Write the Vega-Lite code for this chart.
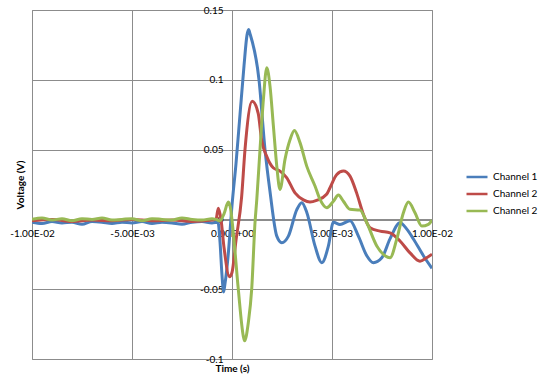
{
  "$schema": "https://vega.github.io/schema/vega-lite/v6.json",
  "autosize": {"type": "none"},
  "padding": {"left": 32, "top": 10, "right": 108, "bottom": 27},
  "width": 400,
  "height": 349,
  "background": "white",
  "config": {
    "font": "Lato",
    "view": {"stroke": "#8c8c8c", "strokeWidth": 1},
    "axis": {"gridColor": "#8c8c8c", "gridOpacity": 1, "domainColor": "#8c8c8c", "tickColor": "#8c8c8c", "labelFont": "Lato", "labelFontSize": 10, "labelColor": "#000000", "titleFont": "Lato", "titleFontSize": 10, "titleFontWeight": "bold", "titleColor": "#000000"}
  },
  "data": {"values": [
    {"t": -0.01, "v": -0.002, "s": "Channel 1"},
    {"t": -0.0095, "v": -0.003, "s": "Channel 1"},
    {"t": -0.009, "v": -0.0015, "s": "Channel 1"},
    {"t": -0.0085, "v": -0.0025, "s": "Channel 1"},
    {"t": -0.008, "v": -0.002, "s": "Channel 1"},
    {"t": -0.0075, "v": -0.0035, "s": "Channel 1"},
    {"t": -0.007, "v": -0.0015, "s": "Channel 1"},
    {"t": -0.0065, "v": -0.002, "s": "Channel 1"},
    {"t": -0.006, "v": -0.003, "s": "Channel 1"},
    {"t": -0.0055, "v": -0.002, "s": "Channel 1"},
    {"t": -0.005, "v": -0.0025, "s": "Channel 1"},
    {"t": -0.0045, "v": -0.0015, "s": "Channel 1"},
    {"t": -0.004, "v": -0.003, "s": "Channel 1"},
    {"t": -0.0035, "v": -0.002, "s": "Channel 1"},
    {"t": -0.003, "v": -0.0025, "s": "Channel 1"},
    {"t": -0.0025, "v": -0.0035, "s": "Channel 1"},
    {"t": -0.002, "v": -0.002, "s": "Channel 1"},
    {"t": -0.0015, "v": -0.0015, "s": "Channel 1"},
    {"t": -0.001, "v": -0.0025, "s": "Channel 1"},
    {"t": -0.0007, "v": -0.002, "s": "Channel 1"},
    {"t": -0.0006, "v": -0.016, "s": "Channel 1"},
    {"t": -0.0005, "v": -0.04, "s": "Channel 1"},
    {"t": -0.00042, "v": -0.052, "s": "Channel 1"},
    {"t": -0.00035, "v": -0.046, "s": "Channel 1"},
    {"t": -0.0002, "v": -0.027, "s": "Channel 1"},
    {"t": 0, "v": 0.01, "s": "Channel 1"},
    {"t": 0.0002, "v": 0.04, "s": "Channel 1"},
    {"t": 0.0004, "v": 0.075, "s": "Channel 1"},
    {"t": 0.0006, "v": 0.11, "s": "Channel 1"},
    {"t": 0.00075, "v": 0.132, "s": "Channel 1"},
    {"t": 0.00083, "v": 0.136, "s": "Channel 1"},
    {"t": 0.0009, "v": 0.133, "s": "Channel 1"},
    {"t": 0.00135, "v": 0.1, "s": "Channel 1"},
    {"t": 0.00165, "v": 0.05, "s": "Channel 1"},
    {"t": 0.0019, "v": 0.02, "s": "Channel 1"},
    {"t": 0.00224, "v": -0.012, "s": "Channel 1"},
    {"t": 0.00249, "v": -0.0167, "s": "Channel 1"},
    {"t": 0.00282, "v": -0.012, "s": "Channel 1"},
    {"t": 0.00324, "v": 0.007, "s": "Channel 1"},
    {"t": 0.00349, "v": 0.012, "s": "Channel 1"},
    {"t": 0.00374, "v": 0.005, "s": "Channel 1"},
    {"t": 0.00415, "v": -0.019, "s": "Channel 1"},
    {"t": 0.00449, "v": -0.031, "s": "Channel 1"},
    {"t": 0.00482, "v": -0.019, "s": "Channel 1"},
    {"t": 0.00507, "v": -0.002, "s": "Channel 1"},
    {"t": 0.0054, "v": -0.0036, "s": "Channel 1"},
    {"t": 0.0059, "v": -0.001, "s": "Channel 1"},
    {"t": 0.00632, "v": -0.012, "s": "Channel 1"},
    {"t": 0.00674, "v": -0.026, "s": "Channel 1"},
    {"t": 0.00707, "v": -0.031, "s": "Channel 1"},
    {"t": 0.00749, "v": -0.0275, "s": "Channel 1"},
    {"t": 0.0079, "v": -0.014, "s": "Channel 1"},
    {"t": 0.0084, "v": -0.0024, "s": "Channel 1"},
    {"t": 0.00874, "v": -0.007, "s": "Channel 1"},
    {"t": 0.00907, "v": -0.014, "s": "Channel 1"},
    {"t": 0.00957, "v": -0.026, "s": "Channel 1"},
    {"t": 0.01, "v": -0.035, "s": "Channel 1"},

    {"t": -0.01, "v": -0.001, "s": "Channel 2"},
    {"t": -0.009, "v": 0.0, "s": "Channel 2"},
    {"t": -0.008, "v": -0.0015, "s": "Channel 2"},
    {"t": -0.007, "v": -0.0005, "s": "Channel 2"},
    {"t": -0.006, "v": -0.001, "s": "Channel 2"},
    {"t": -0.005, "v": 0.0, "s": "Channel 2"},
    {"t": -0.004, "v": -0.001, "s": "Channel 2"},
    {"t": -0.003, "v": -0.0005, "s": "Channel 2"},
    {"t": -0.002, "v": -0.0015, "s": "Channel 2"},
    {"t": -0.001, "v": -0.0005, "s": "Channel 2"},
    {"t": -0.0008, "v": 0.0, "s": "Channel 2"},
    {"t": -0.000685, "v": 0.008, "s": "Channel 2"},
    {"t": -0.00055, "v": 0.0, "s": "Channel 2"},
    {"t": -0.0004, "v": -0.02, "s": "Channel 2"},
    {"t": -0.000125, "v": -0.041, "s": "Channel 2"},
    {"t": 0, "v": -0.038, "s": "Channel 2"},
    {"t": 0.0002, "v": -0.015, "s": "Channel 2"},
    {"t": 0.00048, "v": 0.016, "s": "Channel 2"},
    {"t": 0.00065, "v": 0.05, "s": "Channel 2"},
    {"t": 0.00101, "v": 0.0847, "s": "Channel 2"},
    {"t": 0.00131, "v": 0.076, "s": "Channel 2"},
    {"t": 0.00148, "v": 0.057, "s": "Channel 2"},
    {"t": 0.00174, "v": 0.045, "s": "Channel 2"},
    {"t": 0.00206, "v": 0.037, "s": "Channel 2"},
    {"t": 0.0024, "v": 0.0346, "s": "Channel 2"},
    {"t": 0.00273, "v": 0.03, "s": "Channel 2"},
    {"t": 0.00315, "v": 0.019, "s": "Channel 2"},
    {"t": 0.00357, "v": 0.014, "s": "Channel 2"},
    {"t": 0.0039, "v": 0.0124, "s": "Channel 2"},
    {"t": 0.00423, "v": 0.0136, "s": "Channel 2"},
    {"t": 0.00473, "v": 0.018, "s": "Channel 2"},
    {"t": 0.0049, "v": 0.0227, "s": "Channel 2"},
    {"t": 0.00523, "v": 0.032, "s": "Channel 2"},
    {"t": 0.00557, "v": 0.0346, "s": "Channel 2"},
    {"t": 0.0059, "v": 0.031, "s": "Channel 2"},
    {"t": 0.00623, "v": 0.019, "s": "Channel 2"},
    {"t": 0.00657, "v": 0.0036, "s": "Channel 2"},
    {"t": 0.0069, "v": -0.006, "s": "Channel 2"},
    {"t": 0.0074, "v": -0.0084, "s": "Channel 2"},
    {"t": 0.0079, "v": -0.0096, "s": "Channel 2"},
    {"t": 0.0084, "v": -0.0155, "s": "Channel 2"},
    {"t": 0.0089, "v": -0.024, "s": "Channel 2"},
    {"t": 0.0094, "v": -0.03, "s": "Channel 2"},
    {"t": 0.00973, "v": -0.0275, "s": "Channel 2"},
    {"t": 0.01, "v": -0.025, "s": "Channel 2"},

    {"t": -0.01, "v": 0.0, "s": "Channel 2b"},
    {"t": -0.0095, "v": 0.001, "s": "Channel 2b"},
    {"t": -0.009, "v": -0.0005, "s": "Channel 2b"},
    {"t": -0.0085, "v": 0.0005, "s": "Channel 2b"},
    {"t": -0.008, "v": -0.001, "s": "Channel 2b"},
    {"t": -0.0075, "v": 0.0005, "s": "Channel 2b"},
    {"t": -0.007, "v": 0.0, "s": "Channel 2b"},
    {"t": -0.0065, "v": 0.001, "s": "Channel 2b"},
    {"t": -0.006, "v": -0.0005, "s": "Channel 2b"},
    {"t": -0.0055, "v": 0.0, "s": "Channel 2b"},
    {"t": -0.005, "v": 0.0005, "s": "Channel 2b"},
    {"t": -0.0045, "v": -0.001, "s": "Channel 2b"},
    {"t": -0.004, "v": 0.0005, "s": "Channel 2b"},
    {"t": -0.0035, "v": 0.0, "s": "Channel 2b"},
    {"t": -0.003, "v": -0.0005, "s": "Channel 2b"},
    {"t": -0.0025, "v": 0.001, "s": "Channel 2b"},
    {"t": -0.002, "v": 0.0, "s": "Channel 2b"},
    {"t": -0.0015, "v": -0.0005, "s": "Channel 2b"},
    {"t": -0.001, "v": 0.0005, "s": "Channel 2b"},
    {"t": -0.0008, "v": 0.0, "s": "Channel 2b"},
    {"t": -0.0006, "v": -0.001, "s": "Channel 2b"},
    {"t": -0.0004, "v": 0.004, "s": "Channel 2b"},
    {"t": -0.000185, "v": 0.0124, "s": "Channel 2b"},
    {"t": -0.000075, "v": 0.008, "s": "Channel 2b"},
    {"t": 0.000065, "v": -0.0096, "s": "Channel 2b"},
    {"t": 0.000315, "v": -0.05, "s": "Channel 2b"},
    {"t": 0.000565, "v": -0.0836, "s": "Channel 2b"},
    {"t": 0.00063, "v": -0.087, "s": "Channel 2b"},
    {"t": 0.000815, "v": -0.074, "s": "Channel 2b"},
    {"t": 0.000985, "v": -0.05, "s": "Channel 2b"},
    {"t": 0.00115, "v": -0.0024, "s": "Channel 2b"},
    {"t": 0.00124, "v": 0.0143, "s": "Channel 2b"},
    {"t": 0.0014, "v": 0.05, "s": "Channel 2b"},
    {"t": 0.00157, "v": 0.086, "s": "Channel 2b"},
    {"t": 0.00174, "v": 0.1087, "s": "Channel 2b"},
    {"t": 0.0019, "v": 0.0955, "s": "Channel 2b"},
    {"t": 0.00207, "v": 0.0668, "s": "Channel 2b"},
    {"t": 0.00224, "v": 0.038, "s": "Channel 2b"},
    {"t": 0.0024, "v": 0.0215, "s": "Channel 2b"},
    {"t": 0.00265, "v": 0.043, "s": "Channel 2b"},
    {"t": 0.0029, "v": 0.057, "s": "Channel 2b"},
    {"t": 0.00312, "v": 0.0637, "s": "Channel 2b"},
    {"t": 0.0034, "v": 0.055, "s": "Channel 2b"},
    {"t": 0.00374, "v": 0.038, "s": "Channel 2b"},
    {"t": 0.00415, "v": 0.0239, "s": "Channel 2b"},
    {"t": 0.0044, "v": 0.0143, "s": "Channel 2b"},
    {"t": 0.00474, "v": 0.0084, "s": "Channel 2b"},
    {"t": 0.00507, "v": 0.013, "s": "Channel 2b"},
    {"t": 0.00532, "v": 0.0174, "s": "Channel 2b"},
    {"t": 0.00557, "v": 0.013, "s": "Channel 2b"},
    {"t": 0.0059, "v": 0.0072, "s": "Channel 2b"},
    {"t": 0.0064, "v": 0.0067, "s": "Channel 2b"},
    {"t": 0.00674, "v": -0.0024, "s": "Channel 2b"},
    {"t": 0.00724, "v": -0.019, "s": "Channel 2b"},
    {"t": 0.00765, "v": -0.026, "s": "Channel 2b"},
    {"t": 0.0079, "v": -0.0275, "s": "Channel 2b"},
    {"t": 0.00824, "v": -0.014, "s": "Channel 2b"},
    {"t": 0.00857, "v": 0.0048, "s": "Channel 2b"},
    {"t": 0.00882, "v": 0.0124, "s": "Channel 2b"},
    {"t": 0.00915, "v": 0.0048, "s": "Channel 2b"},
    {"t": 0.00949, "v": -0.0048, "s": "Channel 2b"},
    {"t": 0.00982, "v": -0.0036, "s": "Channel 2b"},
    {"t": 0.01, "v": -0.0005, "s": "Channel 2b"}
  ]},
  "mark": {"type": "line", "strokeWidth": 3, "interpolate": "monotone", "clip": true},
  "encoding": {
    "x": {
      "field": "t", "type": "quantitative",
      "scale": {"domain": [-0.01, 0.01], "nice": false, "zero": false},
      "axis": {
        "title": "Time (s)", "values": [-0.01, -0.005, 0, 0.005, 0.01],
        "offset": -139, "tickSize": 4, "labelPadding": 4,
        "labelOverlap": false, "labelFlush": false, "labelBound": false,
        "labelExpr": "datum.value == 0 ? '0.00E+00' : datum.value == 0.005 ? '5.00E-03' : datum.value == 0.01 ? '1.00E-02' : datum.value == -0.005 ? '-5.00E-03' : '-1.00E-02'",
        "titleY": 148, "titleBaseline": "middle"
      }
    },
    "y": {
      "field": "v", "type": "quantitative",
      "scale": {"domain": [-0.1, 0.15], "nice": false, "zero": false},
      "axis": {
        "title": "Voltage (V)", "values": [-0.1, -0.05, 0, 0.05, 0.1, 0.15],
        "offset": -200, "tickSize": 4, "labelPadding": 5,
        "labelOverlap": false, "labelFlush": false, "labelBound": false,
        "labelExpr": "datum.value == 0 ? '0' : datum.value < 0 ? '-' + format(-datum.value, '~g') : format(datum.value, '~g')",
        "titleX": -212, "titleBaseline": "middle", "titleAlign": "center"
      }
    },
    "color": {
      "field": "s", "type": "nominal",
      "scale": {"domain": ["Channel 1", "Channel 2", "Channel 2b"], "range": ["#4a7ebb", "#be4b48", "#98b954"]},
      "legend": {
        "title": null, "orient": "none", "legendX": 433, "legendY": 155,
        "symbolType": "stroke", "symbolSize": 441, "symbolStrokeWidth": 2.5,
        "rowPadding": -3, "labelFont": "Lato", "labelFontSize": 10, "labelColor": "#000000",
        "labelExpr": "datum.label == 'Channel 1' ? 'Channel 1' : 'Channel 2'"
      }
    }
  }
}
